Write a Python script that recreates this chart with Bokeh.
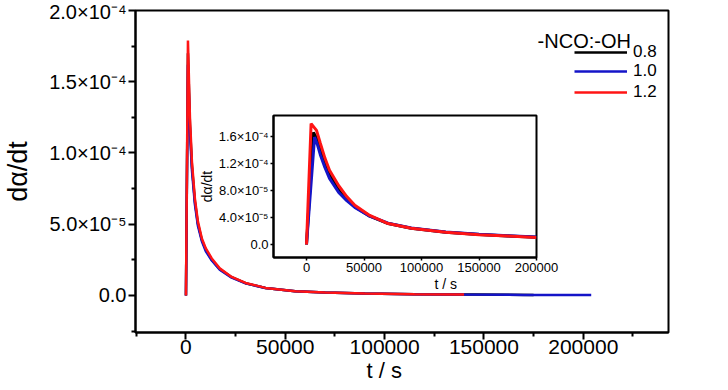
from bokeh.plotting import figure
from bokeh.models import Range1d, FixedTicker, Legend, LegendItem, Label, Title
from bokeh.embed import file_html
from bokeh.resources import INLINE

# ---------------- data: main plot ----------------
main_t_08 = [0, 1000, 2000, 3000, 4500, 6000, 8000, 10000, 13000, 17000, 23000, 30000, 40000, 55000, 70000, 90000, 115000, 145000, 175000]
main_y_08 = [0, 1.70e-4, 1.20e-4, 9.1e-5, 6.6e-5, 5.05e-5, 3.9e-5, 3.2e-5, 2.5e-5, 1.85e-5, 1.28e-5, 8.6e-6, 5.2e-6, 3.0e-6, 2.0e-6, 1.4e-6, 9e-7, 6e-7, 4e-7]
main_t_10 = [0, 1000, 2000, 3000, 4500, 6000, 8000, 10000, 13000, 17000, 23000, 30000, 40000, 55000, 70000, 90000, 115000, 140000, 170000, 204000]
main_y_10 = [0, 1.62e-4, 1.15e-4, 8.8e-5, 6.4e-5, 4.9e-5, 3.8e-5, 3.1e-5, 2.45e-5, 1.8e-5, 1.25e-5, 8.5e-6, 5.2e-6, 3.0e-6, 2.0e-6, 1.4e-6, 9e-7, 6e-7, 4e-7, 3e-7]
main_t_12 = [0, 1000, 2000, 3000, 4500, 6000, 8000, 10000, 13000, 17000, 23000, 30000, 40000, 55000, 70000, 90000, 115000, 140000]
main_y_12 = [0, 1.79e-4, 1.25e-4, 9.4e-5, 6.8e-5, 5.2e-5, 4.0e-5, 3.3e-5, 2.6e-5, 1.9e-5, 1.3e-5, 8.8e-6, 5.3e-6, 3.0e-6, 2.0e-6, 1.4e-6, 9e-7, 6e-7]

main_xticks = [0, 50000, 100000, 150000, 200000]
main_xlabels = ["0", "50000", "100000", "150000", "200000"]
main_xminor = [-25000, 25000, 75000, 125000, 175000, 225000]
main_yticks = [0.0, 5e-05, 0.0001, 0.00015, 0.0002]
main_yminor = [-2.5e-05, 2.5e-05, 7.5e-05, 0.000125, 0.000175]
main_ylabels = ["0.0", "5.0×10⁻⁵", "1.0×10⁻⁴", "1.5×10⁻⁴", "2.0×10⁻⁴"]

# ---------------- data: inset ----------------
ins_t_08 = [0, 6000, 8700, 12000, 16000, 20000, 28000, 35000, 42000, 55000, 71000, 91000, 121000, 150000, 175000, 200000]
ins_y_08 = [0, 1.66e-4, 1.58e-4, 1.42e-4, 1.22e-4, 1.05e-4, 8.2e-5, 6.8e-5, 5.6e-5, 4.2e-5, 3.1e-5, 2.4e-5, 1.8e-5, 1.47e-5, 1.27e-5, 1.08e-5]
ins_t_10 = [0, 7000, 9500, 12000, 16000, 20000, 28000, 35000, 42000, 55000, 71000, 91000, 121000, 150000, 175000, 200000]
ins_y_10 = [0, 1.59e-4, 1.48e-4, 1.33e-4, 1.14e-4, 9.8e-5, 7.7e-5, 6.5e-5, 5.5e-5, 4.2e-5, 3.15e-5, 2.45e-5, 1.85e-5, 1.5e-5, 1.3e-5, 1.12e-5]
ins_t_12 = [0, 4000, 8700, 12000, 16000, 20000, 28000, 35000, 42000, 55000, 71000, 91000, 121000, 150000, 175000, 200000]
ins_y_12 = [0, 1.79e-4, 1.69e-4, 1.50e-4, 1.28e-4, 1.10e-4, 8.7e-5, 7.1e-5, 5.8e-5, 4.3e-5, 3.1e-5, 2.4e-5, 1.8e-5, 1.45e-5, 1.25e-5, 1.05e-5]

ins_xticks = [0, 50000, 100000, 150000, 200000]
ins_xlabels = ["0", "50000", "100000", "150000", "200000"]
ins_yticks = [0.0, 4e-05, 8e-05, 0.00012, 0.00016]
ins_ylabels = ["0.0", "4.0×10⁻⁵", "8.0×10⁻⁵", "1.2×10⁻⁴", "1.6×10⁻⁴"]

series_names = ["0.8", "1.0", "1.2"]
series_colors = ["#000000", "#1414c8", "#ff1414"]
legend_title = "-NCO:-OH"
x_title = "t / s"
y_title = "dα/dt"

F = "Liberation Sans"

# ---------------- main figure ----------------
p = figure(width=728, height=390,
           x_range=Range1d(-25400, 242900), y_range=Range1d(-2.6e-5, 2.0e-4),
           output_backend="svg", toolbar_location=None,
           min_border_left=130, min_border_right=60, min_border_top=10, min_border_bottom=58)
p.grid.visible = False
p.outline_line_color = "black"
p.outline_line_width = 2
p.background_fill_color = "white"
p.border_fill_color = "white"

for ax in (p.xaxis[0], p.yaxis[0]):
    ax.axis_line_width = 2
    ax.major_tick_line_width = 2
    ax.minor_tick_line_width = 2
    ax.major_tick_in = 0
    ax.minor_tick_in = 0
    ax.major_tick_out = 7
    ax.minor_tick_out = 4
    ax.major_label_text_font = F
    ax.major_label_text_color = "black"
    ax.axis_label_text_font = F
    ax.axis_label_text_font_style = "normal"
    ax.axis_label_text_color = "black"

xa = p.xaxis[0]
xa.ticker = FixedTicker(ticks=main_xticks, minor_ticks=main_xminor)
xa.major_label_overrides = {v: s for v, s in zip(main_xticks, main_xlabels)}
xa.major_label_text_font_size = "21px"
xa.major_label_standoff = 0

p.add_layout(Title(text=x_title, align="left", offset=231, standoff=0, vertical_align="middle",
                   text_font=F, text_font_size="22px", text_font_style="normal",
                   text_color="black"), "below")

ya = p.yaxis[0]
ya.ticker = FixedTicker(ticks=main_yticks, minor_ticks=main_yminor)
ya.major_label_overrides = {v: s for v, s in zip(main_yticks, main_ylabels)}
ya.major_label_text_font_size = "20px"
ya.major_label_standoff = 2
ya.axis_label = y_title
ya.axis_label_text_font_size = "27px"
ya.axis_label_standoff = 13

main_data = [(main_t_08, main_y_08), (main_t_10, main_y_10), (main_t_12, main_y_12)]
renderers = []
for (tt, yy), c in zip(main_data, series_colors):
    renderers.append(p.line(tt, yy, line_color=c, line_width=2.5))

legend_vy = [270, 251, 230]
for n, r, vy in zip(series_names, renderers, legend_vy):
    lg = Legend(items=[LegendItem(label=n, renderers=[r])],
                location=(439, vy), orientation="vertical",
                glyph_width=53, glyph_height=16, label_standoff=6, label_height=16,
                spacing=0, padding=0, margin=0,
                border_line_alpha=0, background_fill_alpha=0,
                label_text_font=F, label_text_font_size="17px", label_text_color="black")
    p.add_layout(lg)

p.add_layout(Label(x=177000, y=1.789e-4, text=legend_title, text_font=F,
                   text_font_size="20px", text_color="black", text_baseline="alphabetic"))

# ---------------- inset figure ----------------
ins = figure(frame_width=263, frame_height=142,
             x_range=Range1d(-28700, 200000), y_range=Range1d(-1.93e-5, 1.911e-4),
             output_backend="svg", toolbar_location=None,
             min_border_left=75, min_border_right=30, min_border_top=12, min_border_bottom=43)
ins.grid.visible = False
ins.outline_line_color = "black"
ins.outline_line_width = 2
ins.background_fill_color = "white"
ins.border_fill_alpha = 0
ins.styles = {"position": "absolute", "left": "195px", "top": "103px", "z-index": "5"}

for ax in (ins.xaxis[0], ins.yaxis[0]):
    ax.axis_line_width = 2
    ax.major_tick_line_width = 1.5
    ax.major_tick_in = 0
    ax.major_tick_out = 3
    ax.minor_tick_line_color = None
    ax.major_label_text_font = F
    ax.major_label_text_font_size = "13px"
    ax.axis_label_text_font = F
    ax.axis_label_text_font_size = "14px"
    ax.axis_label_text_font_style = "normal"
    ax.major_label_standoff = 2
    ax.axis_label_standoff = 1
    ax.major_label_text_color = "black"
    ax.axis_label_text_color = "black"

ins.xaxis[0].ticker = FixedTicker(ticks=ins_xticks)
ins.xaxis[0].major_label_overrides = {v: s for v, s in zip(ins_xticks, ins_xlabels)}
ins.yaxis[0].ticker = FixedTicker(ticks=ins_yticks)
ins.yaxis[0].major_label_overrides = {v: s for v, s in zip(ins_yticks, ins_ylabels)}
ins.yaxis[0].axis_label = y_title

ins.add_layout(Title(text=x_title, align="left", offset=161, standoff=0, vertical_align="middle",
                     text_font=F, text_font_size="14px", text_font_style="normal",
                     text_color="black"), "below")

ins_data = [(ins_t_08, ins_y_08), (ins_t_10, ins_y_10), (ins_t_12, ins_y_12)]
for (tt, yy), c in zip(ins_data, series_colors):
    ins.line(tt, yy, line_color=c, line_width=3)

open("out.html", "w").write(file_html([p, ins], INLINE))
